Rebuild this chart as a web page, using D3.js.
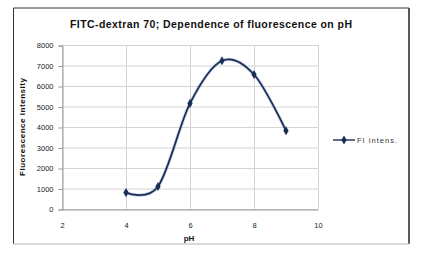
<!DOCTYPE html>
<html>
<head>
<meta charset="utf-8">
<script src="https://cdn.jsdelivr.net/npm/d3@7"></script>
<style>
  body { margin: 0; background: #fff; }
  svg { display: block; font-family: "Liberation Sans", Arial, sans-serif; }
</style>
</head>
<body>
<div id="chart"></div>
<script>
  // data
  const pH = [4, 5, 6, 7, 8, 9]
  const intensity = [800, 1100, 5150, 7230, 6560, 3820]
  const xTicks = [2, 4, 6, 8, 10]
  const yTicks = [0, 1000, 2000, 3000, 4000, 5000, 6000, 7000, 8000]

  const W = 424, H = 257
  const plot = { left: 62, right: 318, top: 45, bottom: 209 }

  const svg = d3.select("#chart").append("svg")
      .attr("width", W)
      .attr("height", H)

  // outer frame
  svg.append("line").attr("x1", 13.5).attr("x2", 13.5).attr("y1", 8).attr("y2", 244)
    .attr("stroke", "#333").attr("stroke-width", 1)
  svg.append("line").attr("x1", 13.5).attr("x2", 409).attr("y1", 8).attr("y2", 8)
    .attr("stroke", "#333").attr("stroke-width", 1)
  svg.append("line").attr("x1", 409).attr("x2", 409).attr("y1", 8).attr("y2", 244)
    .attr("stroke", "#222").attr("stroke-width", 1.5)
  svg.append("line").attr("x1", 13.5).attr("x2", 409).attr("y1", 244).attr("y2", 244)
    .attr("stroke", "#ccc").attr("stroke-width", 1.5)

  const x = d3.scaleLinear().domain([2, 10]).range([plot.left, plot.right])
  const y = d3.scaleLinear().domain([0, 8000]).range([plot.bottom, plot.top])

  // gridlines
  svg.append("g").selectAll("line.h")
    .data(yTicks)
    .join("line")
      .attr("x1", plot.left).attr("x2", plot.right)
      .attr("y1", d => y(d) + 0.5).attr("y2", d => y(d) + 0.5)
      .attr("stroke", "#d4d4d4")
  svg.append("g").selectAll("line.v")
    .data(xTicks)
    .join("line")
      .attr("x1", d => x(d) + 0.5).attr("x2", d => x(d) + 0.5)
      .attr("y1", plot.top).attr("y2", plot.bottom)
      .attr("stroke", "#d4d4d4")

  // axes
  const yAxis = svg.append("g")
      .attr("transform", "translate(" + (plot.left + 0.5) + ",0.5)")
      .call(d3.axisLeft(y).tickValues(yTicks).tickSize(4).tickPadding(5).tickFormat(d3.format("d")))
  const xAxis = svg.append("g")
      .attr("transform", "translate(0," + (plot.bottom + 0.5) + ")")
      .call(d3.axisBottom(x).tickValues(xTicks).tickSize(0).tickPadding(13).tickFormat(d3.format("d")))
  yAxis.select(".domain").attr("stroke", "#999")
  xAxis.select(".domain").attr("stroke", "#999")
  yAxis.selectAll(".tick line").attr("stroke", "#999")
  svg.selectAll(".tick text").attr("fill", "#222").attr("font-size", 7.5)
    .attr("font-family", "'Liberation Sans', Arial, sans-serif")

  // titles
  svg.append("text")
    .attr("x", 211).attr("y", 28)
    .attr("text-anchor", "middle")
    .attr("font-size", 10.5).attr("font-weight", "bold").attr("fill", "#111")
    .attr("textLength", 282).attr("lengthAdjust", "spacing")
    .text("FITC-dextran 70; Dependence of fluorescence on pH")
  svg.append("text")
    .attr("transform", "translate(25,127) rotate(-90)")
    .attr("text-anchor", "middle")
    .attr("font-size", 8).attr("font-weight", "bold").attr("fill", "#111")
    .attr("textLength", 98).attr("lengthAdjust", "spacing")
    .text("Fluorescence Intensity")
  svg.append("text")
    .attr("x", 189).attr("y", 241)
    .attr("text-anchor", "middle")
    .attr("font-size", 8).attr("font-weight", "bold").attr("fill", "#111")
    .text("pH")

  // series
  const data = pH.map((p, i) => ({ pH: p, v: intensity[i] }))
  const line = d3.line()
    .x(d => x(d.pH))
    .y(d => y(d.v))
    .curve(d3.curveCardinal.tension(0))

  svg.append("path")
    .datum(data)
    .attr("d", line)
    .attr("fill", "none")
    .attr("stroke", "#7fa2c8")
    .attr("stroke-width", 3.2)
    .attr("stroke-opacity", 0.5)
  svg.append("path")
    .datum(data)
    .attr("d", line)
    .attr("fill", "none")
    .attr("stroke", "#1b2d55")
    .attr("stroke-width", 1.7)

  const diamond = d3.symbol().type(d3.symbolDiamond).size(24)
  svg.append("g").selectAll("path")
    .data(data)
    .join("path")
      .attr("transform", d => "translate(" + x(d.pH) + "," + y(d.v) + ")")
      .attr("d", diamond)
      .attr("fill", "#1b2d55")

  // legend
  const legend = svg.append("g").attr("transform", "translate(333,140)")
  legend.append("line").attr("x1", 0).attr("x2", 22).attr("y1", 0).attr("y2", 0)
    .attr("stroke", "#1b2d55").attr("stroke-width", 1.4)
  legend.append("path").attr("transform", "translate(11,0)").attr("d", diamond).attr("fill", "#1b2d55")
  legend.append("text").attr("x", 24).attr("y", 2.5)
    .attr("font-size", 7.5).attr("fill", "#333")
    .attr("textLength", 40).attr("lengthAdjust", "spacing")
    .text("FI intens.")
</script>
</body>
</html>
